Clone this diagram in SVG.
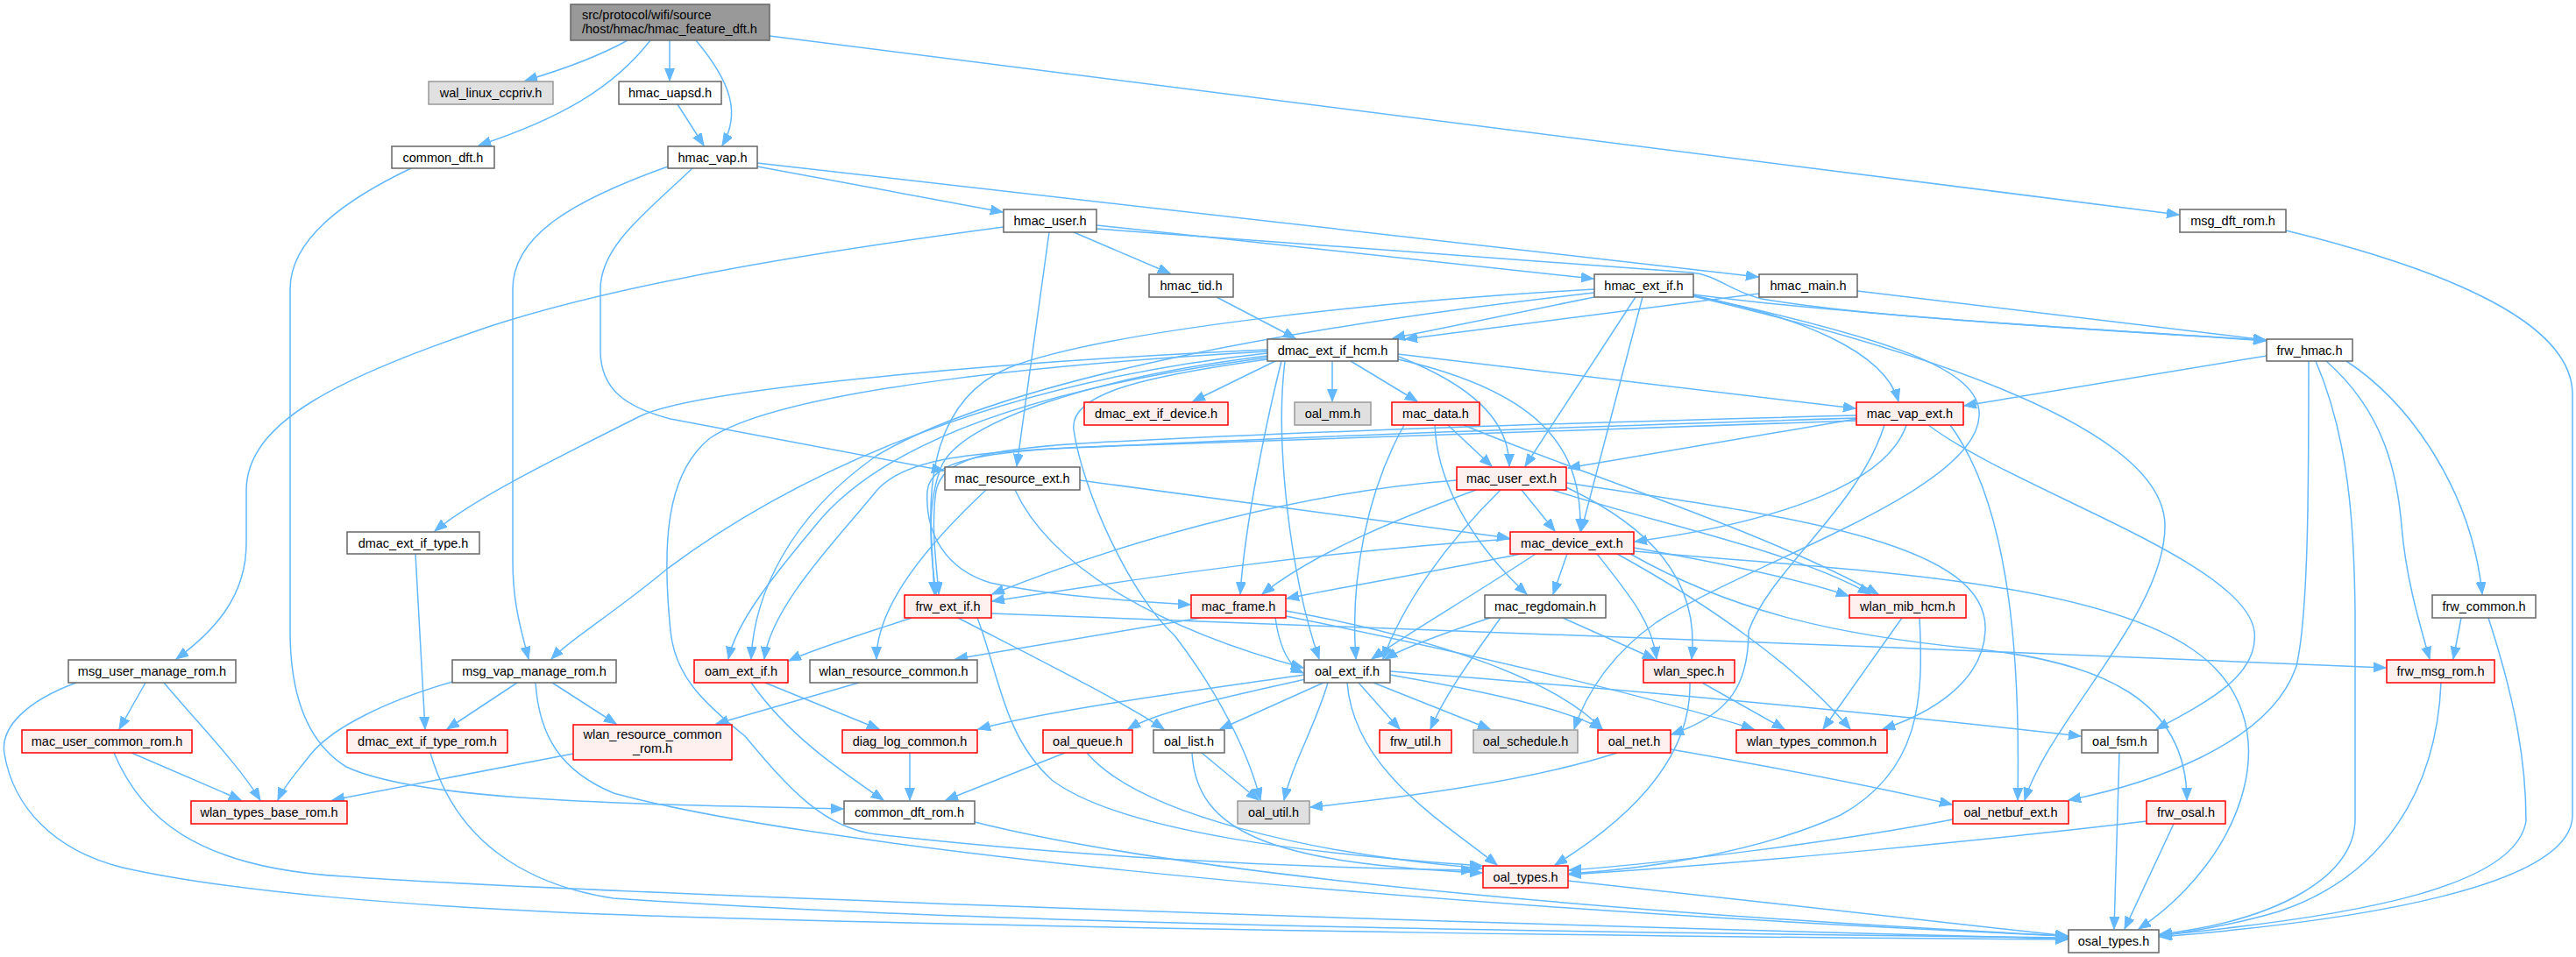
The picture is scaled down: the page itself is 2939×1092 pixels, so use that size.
<svg xmlns="http://www.w3.org/2000/svg" width="2939" height="1092" viewBox="0 0 2939 1092">
<style>
.e{fill:none;stroke:#63b8ff;stroke-width:1.5;marker-end:url(#a)}
.nw rect{fill:#fff;stroke:#666;stroke-width:1.5}
.nr rect{fill:#fff0f0;stroke:#f00;stroke-width:1.5}
.ng rect{fill:#e0e0e0;stroke:#999;stroke-width:1.5}
.nm rect{fill:#999;stroke:#666;stroke-width:1.5}
text{font-family:"Liberation Sans",Arial,sans-serif;font-size:14.5px;fill:#000;text-anchor:middle}
</style>
<defs>
<marker id="a" markerUnits="userSpaceOnUse" markerWidth="16" markerHeight="12" refX="14" refY="5.5" orient="auto"><path d="M0,0 L14,5.5 L0,11 z" fill="#63b8ff" stroke="#63b8ff" stroke-width="1"/></marker>
</defs>
<rect x="0" y="0" width="2939" height="1092" fill="#fff"/>
<g id="edges">
<path class="e" d="M716,46 C680,66 640,80 599,92"/>
<path class="e" d="M742,46 C700,100 640,135 546,166"/>
<path class="e" d="M764,46 L764,92"/>
<path class="e" d="M794,46 C835,95 845,130 824,166"/>
<path class="e" d="M878,41 L2486,245"/>
<path class="e" d="M773,119 L803,166"/>
<path class="e" d="M469,192 C400,225 331,270 331,330 L331,720 C331,800 355,850 395,875 C480,915 720,917 962,923"/>
<path class="e" d="M864,190 L1144,242"/>
<path class="e" d="M864,186 L2006,316"/>
<path class="e" d="M790,192 C740,240 685,280 685,330 L685,400 C685,445 715,465 765,478 L1077,537"/>
<path class="e" d="M762,190 C650,230 585,270 585,330 L585,640 C585,690 595,720 603,752"/>
<path class="e" d="M2608,263 C2800,310 2935,370 2935,450 L2935,930 C2935,1010 2700,1050 2464,1069"/>
<path class="e" d="M1145,259 C950,285 720,320 560,372 C390,430 281,480 281,560 L281,620 C281,680 245,720 201,752"/>
<path class="e" d="M1197,265 L1160,532"/>
<path class="e" d="M1225,265 L1335,312"/>
<path class="e" d="M1251,257 L1818,318"/>
<path class="e" d="M1251,261 L1930,311 C1960,314 1975,333 2010,341 C2150,365 2400,375 2585,389"/>
<path class="e" d="M1388,339 L1478,386"/>
<path class="e" d="M1819,339 L1589,386"/>
<path class="e" d="M2007,335 L1603,387"/>
<path class="e" d="M2119,332 L2585,388"/>
<path class="e" d="M1932,336 C2050,352 2300,372 2585,388"/>
<path class="e" d="M1932,338 C2050,360 2150,400 2166,458"/>
<path class="e" d="M1866,339 L1740,532"/>
<path class="e" d="M1874,339 L1804,606"/>
<path class="e" d="M1819,330 C1550,345 1250,380 1150,420 C1080,450 1060,520 1062,600 L1066,678"/>
<path class="e" d="M1819,334 C1500,370 1150,430 1000,520 C900,590 860,680 857,752"/>
<path class="e" d="M1932,338 C2150,390 2470,480 2470,600 C2470,700 2340,820 2310,913"/>
<path class="e" d="M1932,337 C2150,385 2262,420 2258,475 C2254,560 2000,640 1890,710 C1840,745 1810,790 1796,832"/>
<path class="e" d="M1455,412 L1361,458"/>
<path class="e" d="M1520,412 L1520,458"/>
<path class="e" d="M1541,412 L1617,458"/>
<path class="e" d="M1596,407 C1680,440 1722,480 1722,532"/>
<path class="e" d="M1595,410 C1770,450 1805,520 1803,606"/>
<path class="e" d="M1595,404 L2117,466"/>
<path class="e" d="M1462,412 C1445,480 1420,600 1415,678"/>
<path class="e" d="M1446,399 C1200,410 800,440 730,475 C620,530 540,570 496,606"/>
<path class="e" d="M1446,403 C1100,440 880,560 760,650 C700,700 650,730 629,752"/>
<path class="e" d="M1446,401 C1250,412 900,440 810,500 C760,540 755,620 765,720 C770,770 800,800 850,840 C900,900 940,945 1000,952 C1200,975 1450,990 1681,993"/>
<path class="e" d="M1446,406 C1250,430 1100,480 1075,530 C1058,570 1060,620 1068,678"/>
<path class="e" d="M1446,408 C1200,440 1010,500 930,600 C880,660 840,710 831,752"/>
<path class="e" d="M1466,412 C1455,500 1470,650 1505,752"/>
<path class="e" d="M1446,410 C1300,430 1220,450 1225,490 C1235,560 1290,680 1340,725 C1390,790 1425,860 1438,913"/>
<path class="e" d="M1652,485 L1702,532"/>
<path class="e" d="M1637,485 C1640,560 1690,630 1742,678"/>
<path class="e" d="M1670,485 C1800,540 2000,600 2143,678"/>
<path class="e" d="M1602,485 C1560,560 1540,660 1547,752"/>
<path class="e" d="M2118,478 L1789,534"/>
<path class="e" d="M2175,485 C2150,560 2000,600 1865,618"/>
<path class="e" d="M2118,474 C1800,482 1500,492 1250,505 C1120,512 1075,525 1068,560 C1062,600 1068,640 1071,678"/>
<path class="e" d="M2118,477 C1800,487 1500,497 1250,510 C1100,515 1030,525 1000,560 C960,610 880,690 872,752"/>
<path class="e" d="M2118,480 C1800,490 1500,500 1300,508 C1120,512 1062,525 1058,560 C1055,610 1080,650 1130,665 C1200,680 1280,685 1358,690"/>
<path class="e" d="M2200,485 C2300,560 2560,640 2572,720 C2578,770 2520,800 2460,832"/>
<path class="e" d="M2225,485 C2295,580 2305,760 2302,913"/>
<path class="e" d="M2150,485 C2120,580 2020,650 1995,720 C1995,780 1975,815 1907,838"/>
<path class="e" d="M1736,559 L1774,606"/>
<path class="e" d="M1662,548 C1500,560 1300,610 1132,678"/>
<path class="e" d="M1684,559 C1600,590 1500,630 1440,678"/>
<path class="e" d="M1712,559 C1650,620 1600,690 1578,752"/>
<path class="e" d="M1771,559 C1900,600 2050,630 2134,678"/>
<path class="e" d="M1787,556 C1880,600 1940,660 1930,752"/>
<path class="e" d="M1787,551 C2050,590 2270,620 2265,720 C2262,780 2200,815 2148,832"/>
<path class="e" d="M1723,615 C1500,630 1300,660 1132,686"/>
<path class="e" d="M1735,632 C1650,650 1530,670 1468,683"/>
<path class="e" d="M1788,632 L1772,678"/>
<path class="e" d="M1752,632 C1680,680 1610,720 1565,752"/>
<path class="e" d="M1822,632 C1860,680 1885,710 1890,752"/>
<path class="e" d="M1845,632 C1950,690 2050,760 2111,832"/>
<path class="e" d="M1864,625 C1950,640 2050,660 2109,680"/>
<path class="e" d="M1860,632 C1980,700 2100,725 2250,740 C2400,755 2495,800 2495,913"/>
<path class="e" d="M1864,629 C2100,650 2380,660 2500,740 C2620,820 2560,980 2440,1060"/>
<path class="e" d="M1232,548 L1722,614"/>
<path class="e" d="M1125,559 C1060,620 1000,690 1000,752"/>
<path class="e" d="M1158,559 C1200,650 1330,720 1487,762"/>
<path class="e" d="M1455,705 C1460,740 1470,760 1487,768"/>
<path class="e" d="M1370,705 L1090,752"/>
<path class="e" d="M1467,703 C1700,750 1900,800 2001,832"/>
<path class="e" d="M1467,697 C1650,730 1780,780 1828,832"/>
<path class="e" d="M1712,705 C1680,750 1650,790 1632,832"/>
<path class="e" d="M1783,705 L1888,752"/>
<path class="e" d="M1700,705 C1640,725 1600,740 1580,752"/>
<path class="e" d="M2170,705 L2080,832"/>
<path class="e" d="M2190,705 C2195,800 2190,880 2100,930 C2000,975 1870,992 1790,997"/>
<path class="e" d="M1942,779 L2036,832"/>
<path class="e" d="M1928,779 C1930,870 1850,940 1774,987"/>
<path class="e" d="M1488,770 C1350,790 1200,810 1116,832"/>
<path class="e" d="M1490,775 C1400,795 1320,812 1287,832"/>
<path class="e" d="M1510,779 L1392,832"/>
<path class="e" d="M1515,779 C1500,830 1475,870 1465,913"/>
<path class="e" d="M1537,779 C1545,880 1650,940 1708,987"/>
<path class="e" d="M1550,779 L1597,832"/>
<path class="e" d="M1567,779 L1700,832"/>
<path class="e" d="M1586,770 C1700,790 1790,810 1828,832"/>
<path class="e" d="M1586,766 C1900,790 2200,820 2374,840"/>
<path class="e" d="M1215,859 L1079,913"/>
<path class="e" d="M1240,859 C1300,930 1500,975 1691,991"/>
<path class="e" d="M1371,859 L1436,913"/>
<path class="e" d="M1360,859 C1365,950 1450,985 1691,996"/>
<path class="e" d="M1845,859 C1750,890 1600,910 1495,921"/>
<path class="e" d="M1906,855 C2050,880 2150,900 2227,918"/>
<path class="e" d="M873,779 L1003,832"/>
<path class="e" d="M857,779 C900,840 960,880 1008,913"/>
<path class="e" d="M1038,859 L1038,913"/>
<path class="e" d="M980,779 L817,826"/>
<path class="e" d="M654,860 L379,913"/>
<path class="e" d="M1112,938 C1400,1010 2000,1050 2359,1068"/>
<path class="e" d="M491,859 C520,960 600,1010 700,1025 C1200,1060 2000,1065 2359,1070"/>
<path class="e" d="M130,859 C160,930 220,990 392,1000 C600,1015 1500,1050 2359,1071"/>
<path class="e" d="M87,779 C30,800 0,830 5,860 C15,920 60,970 140,990 C250,1015 450,1035 740,1045 C1300,1062 2000,1070 2359,1072"/>
<path class="e" d="M611,779 C615,840 640,880 700,905 C900,960 1500,1030 2359,1068"/>
<path class="e" d="M1789,1005 L2359,1068"/>
<path class="e" d="M2418,859 L2412,1060"/>
<path class="e" d="M2480,940 L2424,1060"/>
<path class="e" d="M2449,937 C2300,955 2000,985 1790,998"/>
<path class="e" d="M2228,935 C2100,960 1900,985 1790,993"/>
<path class="e" d="M166,779 L136,832"/>
<path class="e" d="M187,779 C230,830 270,870 297,913"/>
<path class="e" d="M150,859 L275,913"/>
<path class="e" d="M590,779 L510,832"/>
<path class="e" d="M630,779 L703,826"/>
<path class="e" d="M516,778 C440,800 380,830 355,860 C340,880 325,895 317,913"/>
<path class="e" d="M474,632 L485,832"/>
<path class="e" d="M1040,705 C980,725 930,740 900,754"/>
<path class="e" d="M1093,705 C1180,750 1280,800 1328,832"/>
<path class="e" d="M1131,700 C1500,712 2200,740 2722,762"/>
<path class="e" d="M1115,705 C1140,770 1145,840 1200,890 C1280,950 1500,975 1691,988"/>
<path class="e" d="M2586,406 L2241,463"/>
<path class="e" d="M2677,412 C2750,460 2820,560 2832,678"/>
<path class="e" d="M2654,412 C2720,470 2735,540 2740,600 C2745,660 2760,710 2772,752"/>
<path class="e" d="M2642,412 C2680,500 2686,600 2687,700 L2687,934 C2687,1000 2600,1050 2464,1066"/>
<path class="e" d="M2634,412 C2634,550 2634,700 2620,760 C2590,850 2450,895 2360,913"/>
<path class="e" d="M2808,705 L2799,752"/>
<path class="e" d="M2839,705 C2870,800 2882,870 2882,937 C2870,1010 2700,1045 2464,1067"/>
<path class="e" d="M2785,779 C2780,900 2720,1000 2600,1040 C2550,1055 2500,1063 2464,1068"/>
</g>
<g id="n-main" class="nm"><rect x="651" y="5" width="227" height="41"/><text x="664" y="22" style="text-anchor:start">src/protocol/wifi/source</text><text x="664" y="38" style="text-anchor:start">/host/hmac/hmac_feature_dft.h</text></g>
<g id="n-wal_linux_ccpriv" class="ng"><rect x="489" y="93" width="142" height="26"/><text x="560" y="111">wal_linux_ccpriv.h</text></g>
<g id="n-hmac_uapsd" class="nw"><rect x="706" y="93" width="117" height="26"/><text x="764.5" y="111">hmac_uapsd.h</text></g>
<g id="n-common_dft" class="nw"><rect x="447" y="167" width="117" height="25"/><text x="505.5" y="185">common_dft.h</text></g>
<g id="n-hmac_vap" class="nw"><rect x="762" y="167" width="102" height="25"/><text x="813" y="185">hmac_vap.h</text></g>
<g id="n-hmac_user" class="nw"><rect x="1145" y="239" width="106" height="26"/><text x="1198" y="257">hmac_user.h</text></g>
<g id="n-msg_dft_rom" class="nw"><rect x="2487" y="239" width="121" height="26"/><text x="2547.5" y="257">msg_dft_rom.h</text></g>
<g id="n-hmac_tid" class="nw"><rect x="1311" y="313" width="96" height="26"/><text x="1359" y="331">hmac_tid.h</text></g>
<g id="n-hmac_ext_if" class="nw"><rect x="1819" y="313" width="113" height="26"/><text x="1875.5" y="331">hmac_ext_if.h</text></g>
<g id="n-hmac_main" class="nw"><rect x="2007" y="313" width="112" height="26"/><text x="2063" y="331">hmac_main.h</text></g>
<g id="n-dmac_ext_if_hcm" class="nw"><rect x="1446" y="387" width="149" height="25"/><text x="1520.5" y="405">dmac_ext_if_hcm.h</text></g>
<g id="n-frw_hmac" class="nw"><rect x="2586" y="387" width="98" height="25"/><text x="2635" y="405">frw_hmac.h</text></g>
<g id="n-dmac_ext_if_device" class="nr"><rect x="1237" y="459" width="164" height="26"/><text x="1319" y="477">dmac_ext_if_device.h</text></g>
<g id="n-oal_mm" class="ng"><rect x="1477" y="459" width="87" height="26"/><text x="1520.5" y="477">oal_mm.h</text></g>
<g id="n-mac_data" class="nr"><rect x="1588" y="459" width="100" height="26"/><text x="1638" y="477">mac_data.h</text></g>
<g id="n-mac_vap_ext" class="nr"><rect x="2118" y="459" width="122" height="26"/><text x="2179" y="477">mac_vap_ext.h</text></g>
<g id="n-mac_resource_ext" class="nw"><rect x="1078" y="533" width="154" height="26"/><text x="1155" y="551">mac_resource_ext.h</text></g>
<g id="n-mac_user_ext" class="nr"><rect x="1662" y="533" width="125" height="26"/><text x="1724.5" y="551">mac_user_ext.h</text></g>
<g id="n-dmac_ext_if_type" class="nw"><rect x="396" y="607" width="151" height="25"/><text x="471.5" y="625">dmac_ext_if_type.h</text></g>
<g id="n-mac_device_ext" class="nr"><rect x="1723" y="607" width="141" height="25"/><text x="1793.5" y="625">mac_device_ext.h</text></g>
<g id="n-frw_ext_if" class="nr"><rect x="1032" y="679" width="99" height="26"/><text x="1081.5" y="697">frw_ext_if.h</text></g>
<g id="n-mac_frame" class="nr"><rect x="1359" y="679" width="108" height="26"/><text x="1413" y="697">mac_frame.h</text></g>
<g id="n-mac_regdomain" class="nw"><rect x="1694" y="679" width="138" height="26"/><text x="1763" y="697">mac_regdomain.h</text></g>
<g id="n-wlan_mib_hcm" class="nr"><rect x="2110" y="679" width="133" height="26"/><text x="2176.5" y="697">wlan_mib_hcm.h</text></g>
<g id="n-frw_common" class="nw"><rect x="2775" y="679" width="118" height="26"/><text x="2834" y="697">frw_common.h</text></g>
<g id="n-msg_user_manage_rom" class="nw"><rect x="78" y="753" width="191" height="26"/><text x="173.5" y="771">msg_user_manage_rom.h</text></g>
<g id="n-msg_vap_manage_rom" class="nw"><rect x="516" y="753" width="187" height="26"/><text x="609.5" y="771">msg_vap_manage_rom.h</text></g>
<g id="n-oam_ext_if" class="nr"><rect x="792" y="753" width="107" height="26"/><text x="845.5" y="771">oam_ext_if.h</text></g>
<g id="n-wlan_resource_common" class="nw"><rect x="924" y="753" width="191" height="26"/><text x="1019.5" y="771">wlan_resource_common.h</text></g>
<g id="n-oal_ext_if" class="nw"><rect x="1488" y="753" width="98" height="26"/><text x="1537" y="771">oal_ext_if.h</text></g>
<g id="n-wlan_spec" class="nr"><rect x="1875" y="753" width="104" height="26"/><text x="1927" y="771">wlan_spec.h</text></g>
<g id="n-frw_msg_rom" class="nr"><rect x="2723" y="753" width="123" height="26"/><text x="2784.5" y="771">frw_msg_rom.h</text></g>
<g id="n-mac_user_common_rom" class="nr"><rect x="25" y="833" width="194" height="26"/><text x="122" y="851">mac_user_common_rom.h</text></g>
<g id="n-dmac_ext_if_type_rom" class="nr"><rect x="396" y="833" width="183" height="26"/><text x="487.5" y="851">dmac_ext_if_type_rom.h</text></g>
<g id="n-wlan_resource_common_rom" class="nr"><rect x="654" y="827" width="181" height="40"/><text x="744.5" y="843">wlan_resource_common</text><text x="744.5" y="859">_rom.h</text></g>
<g id="n-diag_log_common" class="nr"><rect x="961" y="833" width="154" height="26"/><text x="1038" y="851">diag_log_common.h</text></g>
<g id="n-oal_queue" class="nr"><rect x="1190" y="833" width="102" height="26"/><text x="1241" y="851">oal_queue.h</text></g>
<g id="n-oal_list" class="nw"><rect x="1316" y="833" width="81" height="26"/><text x="1356.5" y="851">oal_list.h</text></g>
<g id="n-frw_util" class="nr"><rect x="1574" y="833" width="82" height="26"/><text x="1615" y="851">frw_util.h</text></g>
<g id="n-oal_schedule" class="ng"><rect x="1681" y="833" width="119" height="26"/><text x="1740.5" y="851">oal_schedule.h</text></g>
<g id="n-oal_net" class="nr"><rect x="1823" y="833" width="83" height="26"/><text x="1864.5" y="851">oal_net.h</text></g>
<g id="n-wlan_types_common" class="nr"><rect x="1981" y="833" width="172" height="26"/><text x="2067" y="851">wlan_types_common.h</text></g>
<g id="n-oal_fsm" class="nw"><rect x="2375" y="833" width="87" height="26"/><text x="2418.5" y="851">oal_fsm.h</text></g>
<g id="n-wlan_types_base_rom" class="nr"><rect x="218" y="914" width="178" height="26"/><text x="307" y="932">wlan_types_base_rom.h</text></g>
<g id="n-common_dft_rom" class="nw"><rect x="963" y="914" width="149" height="26"/><text x="1037.5" y="932">common_dft_rom.h</text></g>
<g id="n-oal_util" class="ng"><rect x="1412" y="914" width="82" height="26"/><text x="1453" y="932">oal_util.h</text></g>
<g id="n-oal_netbuf_ext" class="nr"><rect x="2228" y="914" width="132" height="26"/><text x="2294" y="932">oal_netbuf_ext.h</text></g>
<g id="n-frw_osal" class="nr"><rect x="2449" y="914" width="90" height="26"/><text x="2494" y="932">frw_osal.h</text></g>
<g id="n-oal_types" class="nr"><rect x="1692" y="988" width="97" height="25"/><text x="1740.5" y="1006">oal_types.h</text></g>
<g id="n-osal_types" class="nw"><rect x="2360" y="1061" width="103" height="26"/><text x="2411.5" y="1079">osal_types.h</text></g>
</svg>
